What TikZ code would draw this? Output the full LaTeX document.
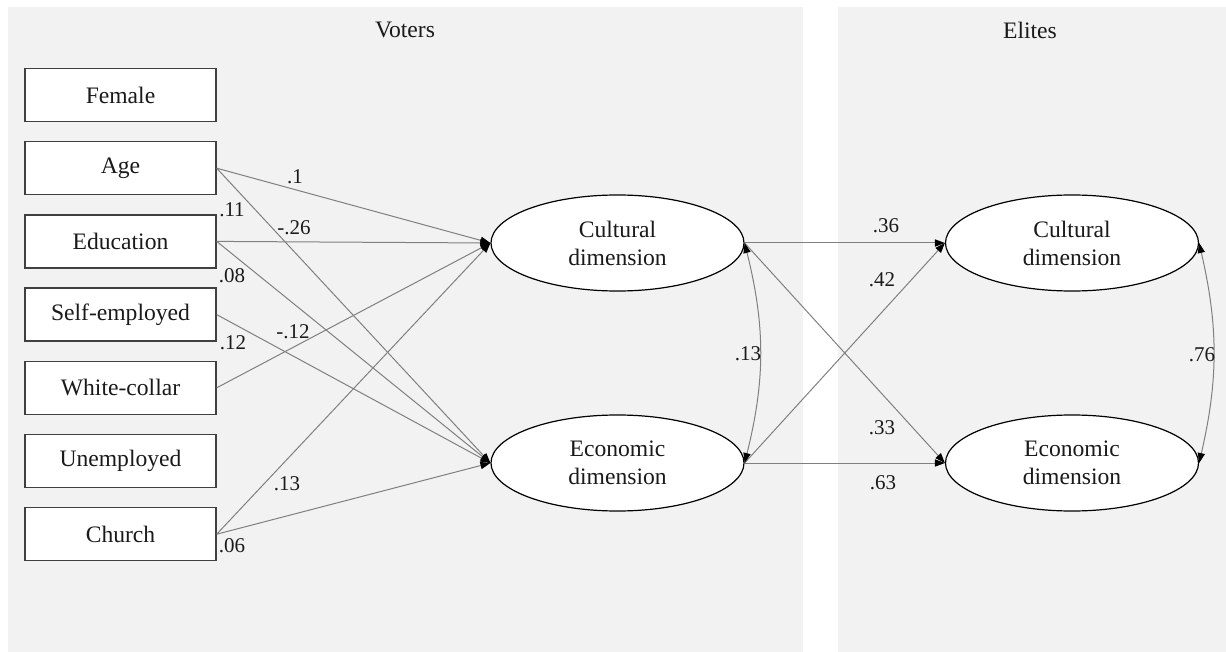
\documentclass[tikz,border=0pt]{standalone}
\usepackage{fontspec}
\setmainfont{Liberation Serif}
\usetikzlibrary{arrows.meta, positioning, shapes.geometric}
\definecolor{SEMPanel}{HTML}{F2F2F2}
\definecolor{SEMLine}{HTML}{808080}
\definecolor{SEMEdge}{HTML}{404040}
\definecolor{SEMInk}{HTML}{1A1A1A}

\begin{document}
\begin{tikzpicture}[
  x=0.5pt, y=-0.5pt,
  font=\fontsize{11.8}{14}\selectfont,
  >={Triangle[length=5pt, width=3.6pt, color=black]}, node distance=9.4pt,
  obs/.style={rectangle, draw=SEMEdge, line width=0.7pt, fill=white, text=SEMInk,
              minimum width=95.5pt, minimum height=26.5pt, inner sep=2pt},
  lat/.style={ellipse, draw=black, line width=0.6pt, fill=white, text=SEMInk,
              align=center, minimum width=126.5pt, minimum height=48pt, inner sep=1pt},
  reg/.style={->, draw=SEMLine, line width=0.5pt},
  cov/.style={<->, draw=SEMLine, line width=0.5pt},
  coef/.style={font=\fontsize{10.5}{12}\selectfont, text=SEMInk, inner sep=0pt},
  panel/.style={fill=SEMPanel, draw=none},
]
\useasboundingbox (0,0) rectangle (1226,652);
\fill[panel] (8,7) rectangle (803,652);
\fill[panel] (838,7) rectangle (1226,652);
\node[text=SEMInk] (voters) at (405,30) {Voters};
\node[text=SEMInk] (elites) at (1030,30) {Elites};

% observed predictors
\node[obs] (female) at (120.5,95) {Female};
\node[obs, below=of female] (age) {Age};
\node[obs, below=of age] (edu) {Education};
\node[obs, below=of edu] (self) {Self-employed};
\node[obs, below=of self] (white) {White-collar};
\node[obs, below=of white] (unemp) {Unemployed};
\node[obs, below=of unemp] (church) {Church};

% latent dimensions
\node[lat] (vcul) at (617.5,243) {Cultural\\dimension};
\node[lat] (veco) at (617.5,463) {Economic\\dimension};
\node[lat] (ecul) at (1072,243) {Cultural\\dimension};
\node[lat] (eeco) at (1072,463) {Economic\\dimension};

% voter paths
\draw[reg] (age.east) -- (vcul.west);
\draw[reg] (age.east) -- (veco.west);
\draw[reg] (edu.east) -- (vcul.west);
\draw[reg] (edu.east) -- (veco.west);
\draw[reg] (self.east) -- (veco.west);
\draw[reg] (white.east) -- (vcul.west);
\draw[reg] (church.east) -- (vcul.west);
\draw[reg] (church.east) -- (veco.west);
\node[coef] (c-age-cul) at (295,177) {.1};
\node[coef] (c-age-eco) at (232,210) {.11};
\node[coef] (c-edu-cul) at (294,228) {-.26};
\node[coef] (c-edu-eco) at (232,276) {.08};
\node[coef] (c-self-eco) at (233,343) {.12};
\node[coef] (c-white-cul) at (293,332) {-.12};
\node[coef] (c-church-cul) at (287,484) {.13};
\node[coef] (c-church-eco) at (232,546) {.06};

% voters to elites
\draw[reg] (vcul.east) -- (ecul.west);
\draw[reg] (veco.east) -- (eeco.west);
\draw[reg] (veco.east) -- (ecul.west);
\draw[reg] (vcul.east) -- (eeco.west);
\draw[cov] (vcul.east) to[bend left=14] (veco.east);
\draw[cov] (ecul.east) to[bend left=13] (eeco.east);
\node[coef] (c-cul-cul) at (886,226) {.36};
\node[coef] (c-eco-cul) at (882,280) {.42};
\node[coef] (c-cul-eco) at (882,428) {.33};
\node[coef] (c-eco-eco) at (883,483) {.63};
\node[coef] (c-vcov) at (748,354) {.13};
\node[coef] (c-ecov) at (1202,355) {.76};
\end{tikzpicture}
\end{document}
